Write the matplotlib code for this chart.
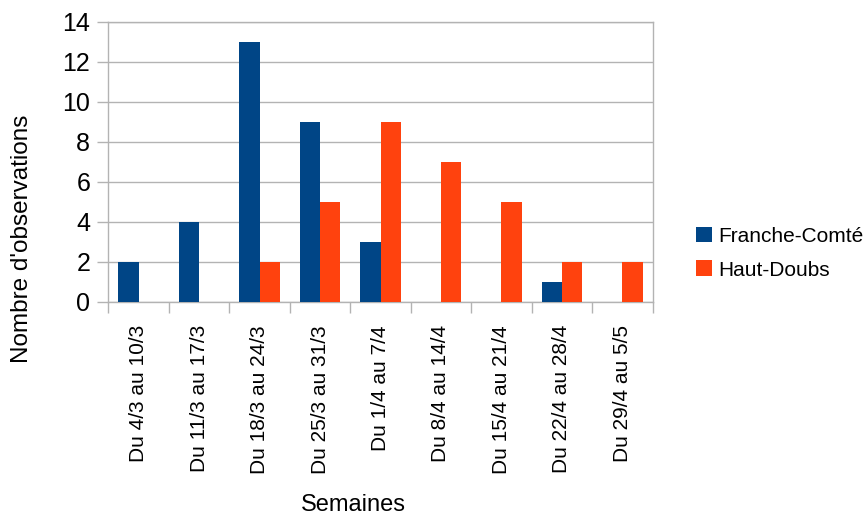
import matplotlib
matplotlib.use("Agg")
import matplotlib.pyplot as plt
import numpy as np

plt.rcParams['font.family'] = ['Liberation Sans', 'DejaVu Sans']

weeks = ["Du 4/3 au 10/3", "Du 11/3 au 17/3", "Du 18/3 au 24/3", "Du 25/3 au 31/3",
         "Du 1/4 au 7/4", "Du 8/4 au 14/4", "Du 15/4 au 21/4", "Du 22/4 au 28/4",
         "Du 29/4 au 5/5"]
franche_comte = [2, 4, 13, 9, 3, 0, 0, 1, 0]
haut_doubs = [0, 0, 2, 5, 9, 7, 5, 2, 2]

blue = "#004586"
orange = "#ff420e"
grid = "#b3b3b3"

fig = plt.figure(figsize=(8.65, 5.16), dpi=100)
ax = fig.add_axes([108.3 / 865, 1 - 301.5 / 516, (652.7 - 108.3) / 865, (301.5 - 21.5) / 516])

x = np.arange(len(weeks))
w = 0.335
ax.bar(x - w, franche_comte, width=w, align='edge', color=blue, label="Franche-Comté", zorder=3)
ax.bar(x, haut_doubs, width=w, align='edge', color=orange, label="Haut-Doubs", zorder=3)

ax.set_xlim(-0.5, len(weeks) - 0.5)
ax.set_ylim(0, 14)
ax.set_yticks(np.arange(0, 15, 2))
ax.yaxis.grid(True, color=grid, linewidth=1.0, zorder=0)
ax.tick_params(axis='y', length=8, width=1.0, color=grid, labelsize=18, pad=5)

ax.set_xticks(x)
ax.set_xticklabels(weeks, rotation=90, fontsize=15)
ax.tick_params(axis='x', which='major', length=0, pad=17)
ax.set_xticks(np.arange(-0.5, len(weeks), 1), minor=True)
ax.tick_params(axis='x', which='minor', length=8, width=1.0, color=grid)

for s in ax.spines.values():
    s.set_color(grid)
    s.set_linewidth(1.0)

fig.text(353 / 865, 1 - 505 / 516, "Semaines", ha='center', va='center', fontsize=17)
fig.text(22 / 865, 1 - 239 / 516, "Nombre d'observations", ha='center', va='center',
         rotation=90, fontsize=17.5)

ax.legend(loc='center left', bbox_to_anchor=(677 / 865, 1 - 253 / 516),
          bbox_transform=fig.transFigure, frameon=False, fontsize=15,
          handlelength=0.8, handleheight=0.8, handletextpad=0.3, labelspacing=0.7)

fig.savefig("out.png", dpi=100)
